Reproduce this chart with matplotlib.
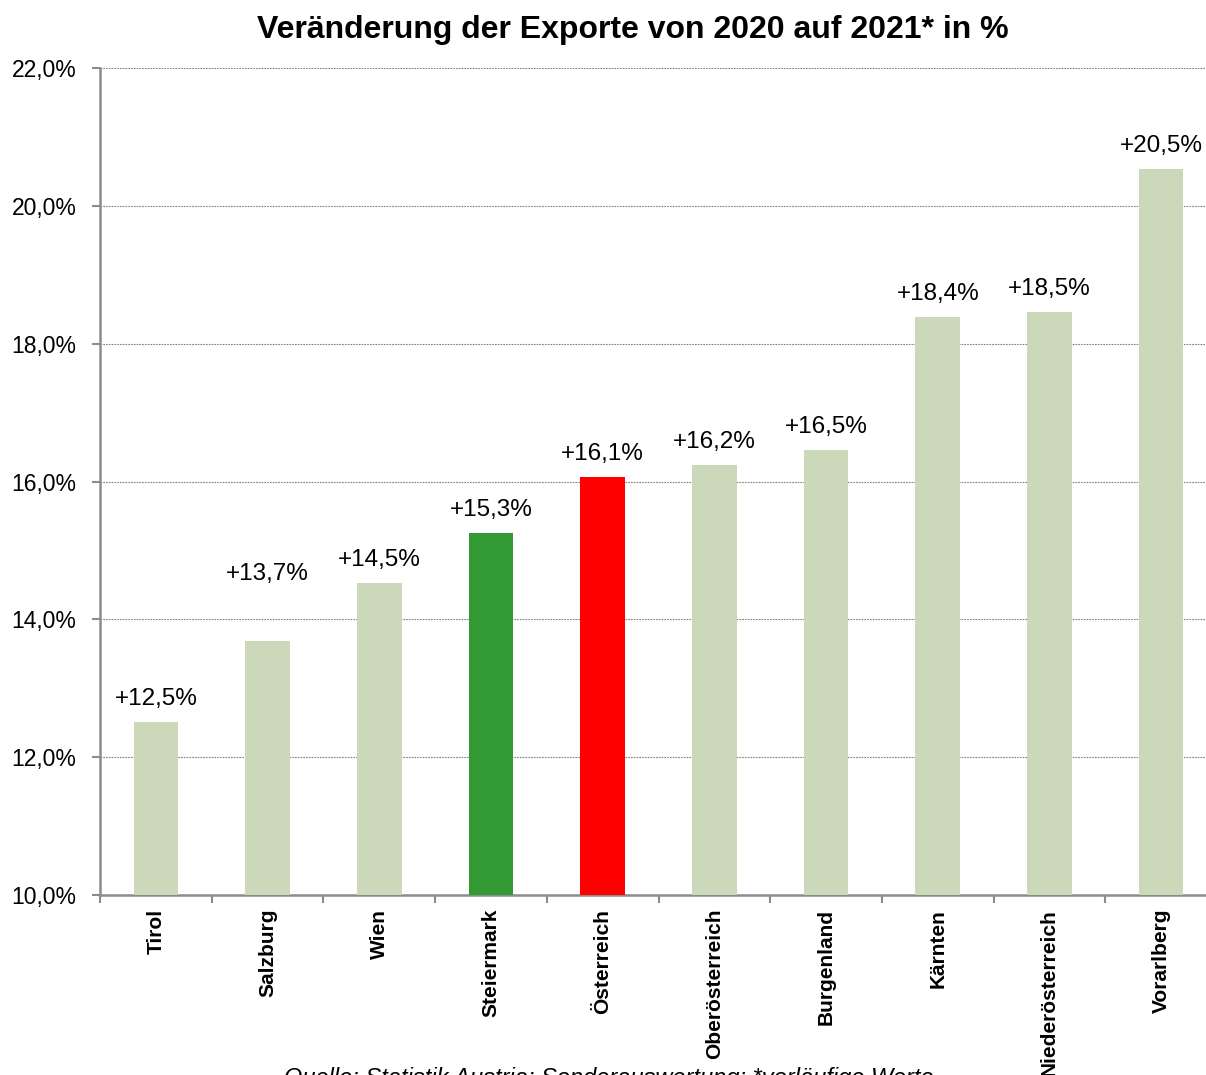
import numpy as np
from matplotlib import pyplot as plt
from matplotlib.ticker import FuncFormatter

# Export change 2020 -> 2021 by federal state (values in %)
regions = ['Tirol', 'Salzburg', 'Wien', 'Steiermark', 'Österreich',
           'Oberösterreich', 'Burgenland', 'Kärnten', 'Niederösterreich',
           'Vorarlberg']
values = [12.51, 13.68, 14.53, 15.25, 16.07, 16.24, 16.46, 18.39, 18.46, 20.54]
value_labels = ['+12,5%', '+13,7%', '+14,5%', '+15,3%', '+16,1%',
                '+16,2%', '+16,5%', '+18,4%', '+18,5%', '+20,5%']

title = 'Veränderung der Exporte von 2020 auf 2021* in %'
source = 'Quelle: Statistik Austria; Sonderauswertung; *vorläufige Werte'

base_color = '#ccd8ba'
highlight = {'Steiermark': '#339933', 'Österreich': '#ff0000'}

plt.rcParams['font.family'] = ['Liberation Sans', 'DejaVu Sans']


def pct(v, pos):
    return f'{v:.1f}%'.replace('.', ',')


def main():
    fig = plt.figure(figsize=(12.06, 10.75), dpi=100)
    # plot area runs slightly past the right edge, like the original
    ax = fig.add_axes([100 / 1206, 1 - 895 / 1075, 1117 / 1206, 827 / 1075])

    x = np.arange(len(regions))
    colors = [highlight.get(r, base_color) for r in regions]
    ax.bar(x, values, width=0.4, color=colors, zorder=3)

    ax.set_xlim(-0.5, len(regions) - 0.5)
    ax.set_ylim(10, 22)
    ax.set_yticks(np.arange(10, 22.1, 2))
    ax.yaxis.set_major_formatter(FuncFormatter(pct))

    ax.grid(axis='y', color='#808080', linestyle=(0, (1.5, 1)), linewidth=0.8, zorder=0)

    for side in ['top', 'right']:
        ax.spines[side].set_visible(False)
    for side in ['left', 'bottom']:
        ax.spines[side].set_color('#8c8c8c')
        ax.spines[side].set_linewidth(1.8)

    ax.set_xticks(x)
    ax.set_xticklabels(regions, rotation=90, fontsize=15, fontweight='bold', va='top')
    ax.tick_params(axis='x', which='major', length=0, pad=10)
    ax.set_xticks(np.arange(-0.5, len(regions), 1), minor=True)
    ax.tick_params(axis='x', which='minor', length=6, width=1.5, color='#8c8c8c', direction='out')
    ax.tick_params(axis='y', length=6, width=1.5, color='#8c8c8c', labelsize=16.5, pad=11)

    # Salzburg label sits higher in the original
    extra = {'Salzburg': 45}
    for xi, v, lab, r in zip(x, values, value_labels, regions):
        ax.annotate(lab, (xi, v), xytext=(0, 8.5 + extra.get(r, 0) * 0.72),
                    textcoords='offset points', ha='center', va='bottom', fontsize=17.5)

    fig.text(633 / 1206, 1 - 30 / 1075, title, ha='center', va='center',
             fontsize=23, fontweight='bold')
    # source line is cut off at the bottom edge in the original as well
    fig.text(609 / 1206, 1 - 1067 / 1075, source, ha='center', va='top',
             fontsize=17, style='italic')

    plt.savefig('out.png', dpi=100)


if __name__ == '__main__':
    main()
